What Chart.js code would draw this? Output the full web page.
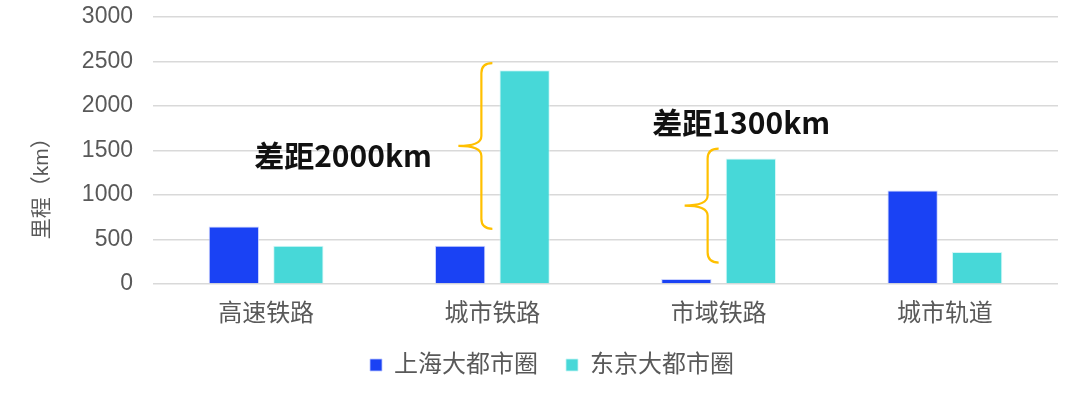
<!DOCTYPE html>
<html>
<head>
<meta charset="utf-8">
<script src="https://cdn.jsdelivr.net/npm/chart.js@4"></script>
<style>
  html, body { margin: 0; padding: 0; background: #fff; }
  #wrap { width: 1080px; height: 393px; }
</style>
</head>
<body>
<div id="wrap"><canvas id="railChart"></canvas></div>
<script>
const categories = ['高速铁路', '城市铁路', '市域铁路', '城市轨道'];
const shanghai = [645, 430, 55, 1050];
const tokyo = [430, 2400, 1410, 360];
const yTicks = [0, 500, 1000, 1500, 2000, 2500, 3000];
const yTitle = '里程（km）';

// gap annotations: category index, brace top/bottom values, label text and position
const gaps = [
    { cat: 1, top: 2480, bottom: 620, label: '差距2000km', labelX: 0.34, labelY: 1440 },
    { cat: 2, top: 1520, bottom: 240, label: '差距1300km', labelX: 2.10, labelY: 1815 }
];

const cjk = '"Liberation Sans", "Noto Sans CJK SC", sans-serif';

// draws the orange braces, the bold gap labels and the y title (sits low, like the original)
const gapPlugin = {
    id: 'gapPlugin',
    beforeDraw(chart) {
        // legend in the original sits a bit right of centre
        chart.legend.left = 23;
        chart.legend.right = 1081;
    },
    afterDatasetsDraw(chart) {
        const { ctx, scales: { x, y } } = chart;
        ctx.save();
        gaps.forEach(g => {
            const cx = x.getPixelForValue(g.cat);
            const ex = cx;
            const vx = cx - 11;
            const tx = cx - 34;
            const top = y.getPixelForValue(g.top);
            const bot = y.getPixelForValue(g.bottom);
            const mid = (top + bot) / 2;
            const r = 10;
            ctx.beginPath();
            ctx.moveTo(ex, top);
            ctx.quadraticCurveTo(vx, top, vx, top + r);
            ctx.lineTo(vx, mid - r);
            ctx.quadraticCurveTo(vx, mid, tx, mid);
            ctx.quadraticCurveTo(vx, mid, vx, mid + r);
            ctx.lineTo(vx, bot - r);
            ctx.quadraticCurveTo(vx, bot, ex, bot);
            ctx.strokeStyle = '#FFC000';
            ctx.lineWidth = 2.2;
            ctx.stroke();

            ctx.fillStyle = '#111';
            ctx.font = 'bold 30px "Noto Sans CJK SC", sans-serif';
            ctx.textAlign = 'center';
            ctx.textBaseline = 'middle';
            ctx.fillText(g.label, x.getPixelForValue(g.labelX), y.getPixelForValue(g.labelY));
        });

        // y axis title
        ctx.translate(42, y.getPixelForValue(1130));
        ctx.rotate(-Math.PI / 2);
        ctx.fillStyle = '#595959';
        ctx.font = '21px ' + cjk;
        ctx.textAlign = 'center';
        ctx.textBaseline = 'middle';
        ctx.fillText(yTitle, 0, 0);
        ctx.restore();
    }
};

function initChart() {
    const ctx = document.getElementById('railChart').getContext('2d');
    new Chart(ctx, {
        type: 'bar',
        data: {
            labels: categories,
            datasets: [{
                label: '上海大都市圈',
                data: shanghai,
                backgroundColor: '#1A42F4',
                borderColor: 'rgba(190,200,255,0.8)',
                borderWidth: 1
            }, {
                label: '东京大都市圈',
                data: tokyo,
                backgroundColor: '#47D8D8',
                borderColor: 'rgba(200,245,245,0.8)',
                borderWidth: 1
            }]
        },
        options: {
            responsive: true,
            maintainAspectRatio: false,
            animation: false,
            categoryPercentage: 0.57,
            barPercentage: 0.78,
            layout: { padding: { top: 0, right: 22, bottom: 6, left: 0 } },
            scales: {
                x: {
                    grid: { display: false },
                    border: { display: false },
                    ticks: { color: '#595959', font: { family: cjk, size: 24 }, padding: 8 },
                    afterFit(scale) { scale.height = 41; }
                },
                y: {
                    min: 0,
                    max: 3000,
                    afterBuildTicks(scale) { scale.ticks = yTicks.map(v => ({ value: v })); },
                    grid: { color: '#D9D9D9', lineWidth: 1.5, drawTicks: true, tickLength: 17, tickColor: 'rgba(0,0,0,0)' },
                    border: { display: false },
                    ticks: {
                        color: '#595959',
                        font: { family: cjk, size: 23 },
                        padding: 3,
                        callback: v => String(v)
                    },
                    afterFit(scale) { scale.width = 153; }
                }
            },
            plugins: {
                legend: {
                    position: 'bottom',
                    labels: {
                        color: '#595959',
                        font: { family: cjk, size: 24 },
                        boxWidth: 12,
                        boxHeight: 12,
                        padding: 28
                    }
                },
                tooltip: { enabled: false }
            }
        },
        plugins: [gapPlugin]
    });
}

window.onload = () => {
    initChart();
};
</script>
</body>
</html>
